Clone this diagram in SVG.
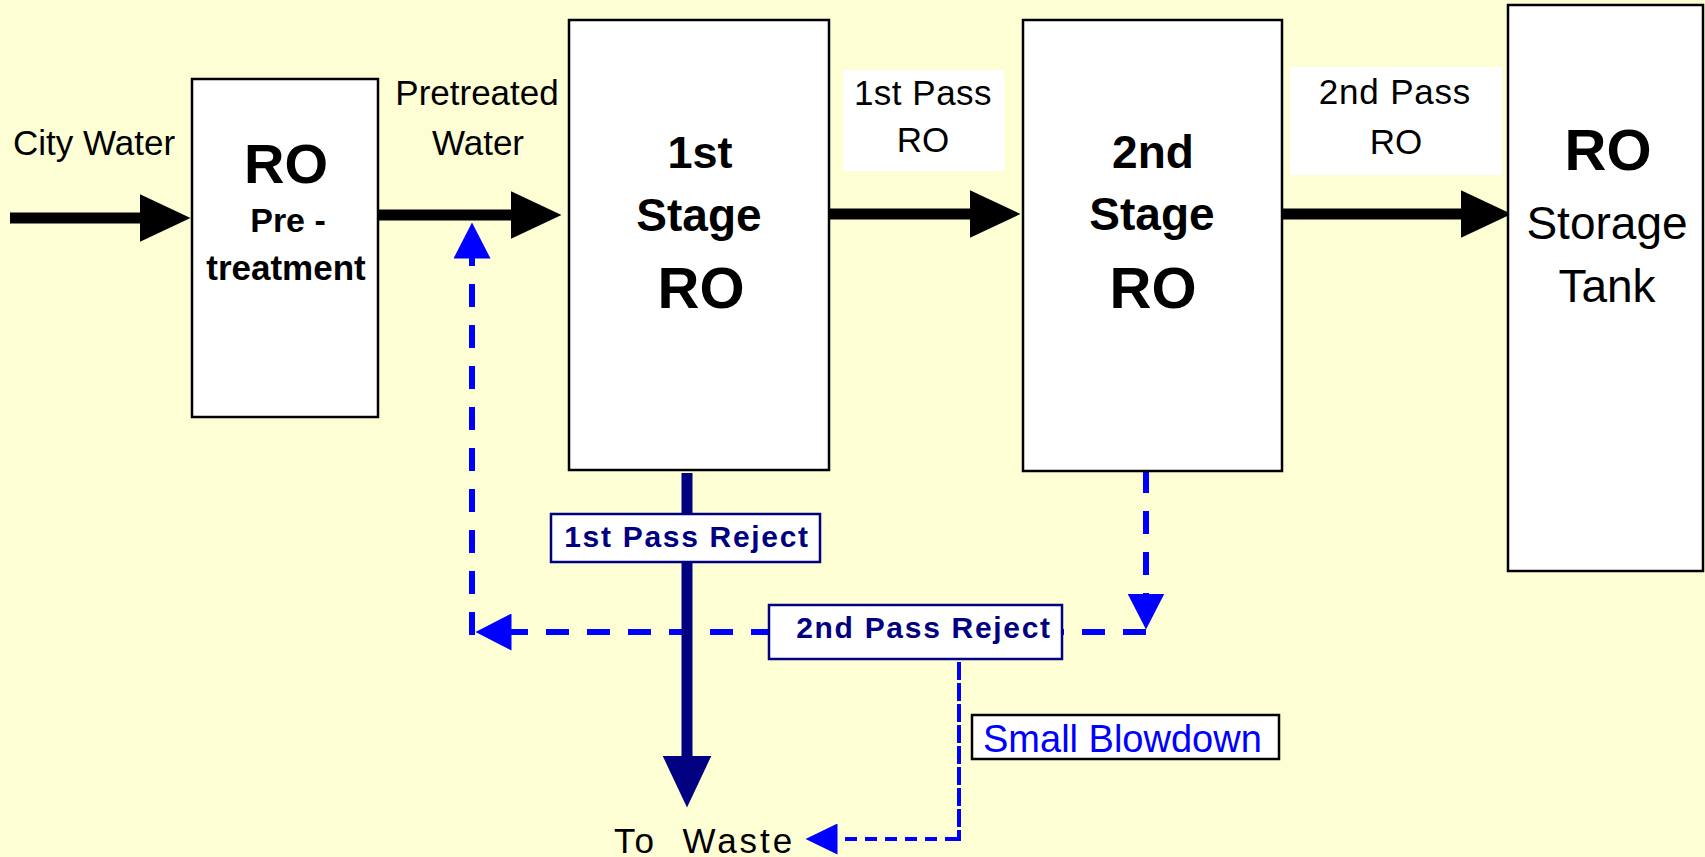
<svg xmlns="http://www.w3.org/2000/svg" width="1705" height="857" viewBox="0 0 1705 857">
<style>
text{font-family:"Liberation Sans",Arial,sans-serif;}
.box{fill:#fff;stroke:#000;stroke-width:2.5;}
.lbl{font-size:35px;fill:#000;}
.b{font-weight:bold;}
.mid{text-anchor:middle;}
.flow{stroke:#000;stroke-width:11;fill:none;}
.blue{stroke:#0000ff;stroke-width:6;fill:none;stroke-dasharray:23 18;}
.thin{stroke:#0000ff;stroke-width:4;fill:none;}
.navy{stroke:#000080;stroke-width:11;fill:none;}
.rej{fill:#fff;stroke:#000080;stroke-width:2.5;}
.rejt{font-size:30px;font-weight:bold;fill:#000080;letter-spacing:1.7px;text-anchor:middle;}
</style>
<defs>
<marker id="hb" markerUnits="userSpaceOnUse" markerWidth="52" markerHeight="48" refX="0.5" refY="24" orient="auto"><path d="M0,0 L51,24 L0,48 z" fill="#000"/></marker>
<marker id="hbl" markerUnits="userSpaceOnUse" markerWidth="37" markerHeight="37" refX="0.5" refY="18.5" orient="auto"><path d="M0,0 L36,18.5 L0,37 z" fill="#0000ff"/></marker>
<marker id="hn" markerUnits="userSpaceOnUse" markerWidth="53" markerHeight="49" refX="0.5" refY="24.5" orient="auto"><path d="M0,0 L52,24.5 L0,49 z" fill="#000080"/></marker>
<marker id="hs" markerUnits="userSpaceOnUse" markerWidth="33" markerHeight="31" refX="0.5" refY="15.5" orient="auto"><path d="M0,0 L32,15.5 L0,31 z" fill="#0000ff"/></marker>
</defs>
<rect x="0" y="0" width="1705" height="857" fill="#fefed5"/>

<g id="connectors">
<path class="flow" d="M10,218 L140,218" marker-end="url(#hb)"/>
<path class="flow" d="M375,215 L511,215" marker-end="url(#hb)"/>
<path class="flow" d="M826,214 L970,214" marker-end="url(#hb)"/>
<path class="flow" d="M1282,214 L1461,214" marker-end="url(#hb)"/>
<path class="blue" d="M472,635 L472,258" marker-end="url(#hbl)"/>
<path class="blue" d="M769,632 L511,632" style="stroke-dashoffset:5" marker-end="url(#hbl)"/>
<path class="blue" d="M1146,470 L1146,594" marker-end="url(#hbl)"/>
<path class="blue" d="M1146,632 L1062,632"/>
<path class="thin" d="M959,662 L959,841" style="stroke-dasharray:18 3"/>
<path class="thin" d="M957,839 L837,839" style="stroke-dasharray:12 8" marker-end="url(#hs)"/>
<path class="navy" d="M687,473 L687,756" marker-end="url(#hn)"/>
</g>

<g id="city-water"><text class="lbl" x="13" y="155">City Water</text></g>
<g id="pretreated-water"><text class="lbl mid" x="477" y="105">Pretreated</text><text class="lbl mid" x="478" y="155">Water</text></g>

<g id="pretreatment">
<rect class="box" x="192" y="79" width="186" height="338"/>
<text class="b mid" x="286" y="183" font-size="56">RO</text>
<text class="b mid" x="288" y="232" font-size="34">Pre -</text>
<text class="b mid" x="286" y="280" font-size="35">treatment</text>
</g>

<g id="stage1">
<rect class="box" x="569" y="20" width="260" height="450"/>
<text class="b mid" x="700" y="168" font-size="45">1st</text>
<text class="b mid" x="699" y="231" font-size="46">Stage</text>
<text class="b mid" x="701" y="308" font-size="58">RO</text>
</g>

<g id="pass1-label">
<rect x="843.5" y="70" width="161" height="101" fill="#fff"/>
<text class="lbl mid" x="923" y="105" style="letter-spacing:0.5px">1st Pass</text>
<text class="lbl mid" x="923" y="152">RO</text>
</g>

<g id="stage2">
<rect class="box" x="1023" y="20" width="259" height="451"/>
<text class="b mid" x="1153" y="168" font-size="46">2nd</text>
<text class="b mid" x="1152" y="230" font-size="46">Stage</text>
<text class="b mid" x="1153" y="308" font-size="58">RO</text>
</g>

<g id="pass2-label">
<rect x="1290" y="67" width="212" height="108" fill="#fff"/>
<text class="lbl mid" x="1395" y="104" style="letter-spacing:0.8px">2nd Pass</text>
<text class="lbl mid" x="1396" y="154">RO</text>
</g>

<g id="tank">
<rect class="box" x="1508" y="5" width="195" height="566"/>
<text class="b mid" x="1608" y="170" font-size="58">RO</text>
<text class="mid" x="1607" y="239" font-size="46">Storage</text>
<text class="mid" x="1607" y="302" font-size="46">Tank</text>
</g>

<g id="reject1">
<rect class="rej" x="551" y="514" width="269" height="48"/>
<text class="rejt" x="687" y="547">1st Pass Reject</text>
</g>

<g id="reject2">
<rect class="rej" x="769" y="605" width="293" height="54"/>
<text class="rejt" x="924" y="638">2nd Pass Reject</text>
</g>

<g id="blowdown">
<rect x="972" y="715" width="307" height="44" fill="#fff" stroke="#000" stroke-width="2.5"/>
<text x="983" y="752" font-size="38" fill="#0000ff">Small Blowdown</text>
</g>

<g id="waste"><text class="lbl" x="614" y="853" style="white-space:pre;letter-spacing:3px">To  Waste</text></g>
</svg>
